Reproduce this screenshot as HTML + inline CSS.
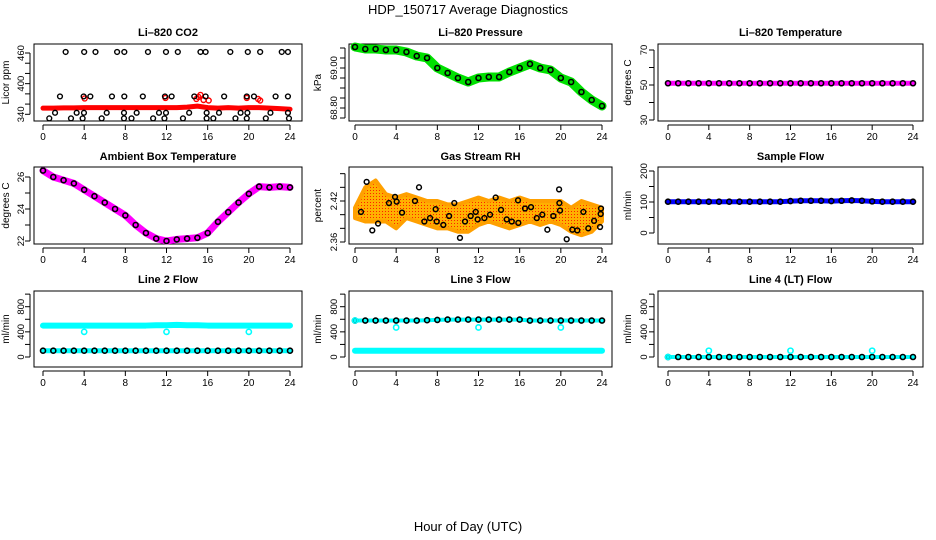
<!DOCTYPE html>
<html><head><meta charset="utf-8">
<style>
html,body{margin:0;padding:0;background:#fff;}
svg{display:block;font-family:"Liberation Sans",Arial,sans-serif;}
</style></head>
<body>
<svg id="chart" width="936" height="540" viewBox="0 0 936 540" xmlns="http://www.w3.org/2000/svg">
<defs>
<pattern id="rhpat" width="3" height="3" patternUnits="userSpaceOnUse">
<rect width="3" height="3" fill="#ffb000"/><rect x="1" y="1" width="1" height="1" fill="#ff2000"/>
</pattern>
</defs>
<text x="468" y="14" text-anchor="middle" font-size="13">HDP_150717  Average Diagnostics</text>
<text x="468" y="531" text-anchor="middle" font-size="13">Hour of Day (UTC)</text>
<g id="plots"></g>
</svg>
<script>
// ---------- data ----------
const hours = [0,1,2,3,4,5,6,7,8,9,10,11,12,13,14,15,16,17,18,19,20,21,22,23,24];
const xTicks = [0,4,8,12,16,20,24];
// CO2
const co2Red = [352,352,352.5,352.5,353,353,353,353,353,353,353,353,353,353,354,356,353,352,353,352,353,353,352,351,350];
const co2OutT = [4.05,11.9,14.9,15.1,15.3,15.6,16.1,19.8,20.9,21.1];
const co2OutV = [371,372,370,374,378,368,367,372,370,367];
const co2BlkT = [2.2,4.0,5.1,7.2,7.9,10.2,11.95,13.1,15.3,15.8,18.2,19.9,21.1,23.2,23.8,
 1.65,3.95,4.6,6.7,7.9,9.7,11.85,12.5,14.7,15.8,17.6,19.8,20.5,22.6,23.8,
 1.17,3.27,3.98,6.19,7.87,9.1,11.27,11.95,14.2,15.9,17.1,19.2,19.86,22.1,23.8,
 0.61,2.72,3.85,5.7,7.87,8.6,10.7,11.8,13.6,15.9,16.55,18.7,19.8,21.65,23.9];
const co2BlkV = [462,462,462,462,462,462,462,462,462,462,462,462,462,462,462,
 375,375,375,375,375,375,375,375,375,375,375,375,375,375,375,
 343,343,343,343,343,343,343,343,343,343,343,343,343,343,343,
 332,332,332,332,332,332,332,332,332,332,332,332,332,332,332];
// Pressure
const presV = [69.105,69.095,69.095,69.09,69.09,69.08,69.06,69.05,69.0,68.975,68.95,68.93,68.95,68.955,68.955,68.98,69.0,69.02,69.0,68.99,68.95,68.93,68.88,68.84,68.81];
// Li-820 temperature
const liTempV = [51,51,51,51,51,51,51,51,51,51,51,51,51,51,51,51,51,51,51,51,51,51,51,51,51];
// Ambient box
const ambV = [26.4,26.0,25.8,25.6,25.2,24.8,24.4,24.0,23.6,23.0,22.5,22.15,22.0,22.1,22.15,22.2,22.5,23.2,23.8,24.4,24.95,25.4,25.35,25.4,25.35];
// Gas stream RH
const rhHi = [2.41,2.44,2.45,2.43,2.425,2.43,2.425,2.42,2.42,2.415,2.415,2.42,2.425,2.42,2.425,2.42,2.425,2.42,2.42,2.42,2.42,2.41,2.42,2.415,2.41];
const rhLo = [2.395,2.39,2.39,2.39,2.38,2.395,2.39,2.385,2.38,2.38,2.375,2.375,2.385,2.39,2.385,2.38,2.385,2.39,2.385,2.39,2.385,2.375,2.37,2.375,2.39];
const rhBlkT = [0.58,1.13,1.68,2.24,3.30,3.89,4.05,4.57,5.83,6.22,6.74,7.29,7.84,7.94,8.58,9.14,9.65,10.2,10.69,11.24,11.73,11.92,12.57,13.12,13.67,14.19,14.74,15.23,15.87,15.84,16.52,17.1,17.66,18.2,18.69,19.27,19.83,19.86,19.92,20.57,21.12,21.6,22.19,22.67,23.23,23.81,23.87,23.9];
const rhBlkV = [2.404,2.448,2.377,2.387,2.417,2.426,2.419,2.403,2.420,2.440,2.390,2.395,2.408,2.390,2.385,2.398,2.417,2.366,2.390,2.398,2.404,2.393,2.395,2.400,2.425,2.407,2.393,2.390,2.388,2.421,2.409,2.411,2.395,2.400,2.378,2.398,2.437,2.417,2.406,2.364,2.378,2.377,2.404,2.380,2.391,2.382,2.401,2.409];
// Sample flow
const sfV = [101,101,101,101,101,101,101,101,101,101,101,101,103,104,104,104,103,104,105,104,102,101,101,101,101];
// Line 2
const l2Cyan = [500,500,500,500,500,500,500,500,500,500,500,505,505,510,505,505,500,500,500,500,500,500,500,500,500];
const l2Blk = [100,100,100,100,100,100,100,100,100,100,100,100,100,100,100,100,100,100,100,100,100,100,100,100,100];
const l2OutT = [4,12,20]; const l2OutV = [400,400,400];
// Line 3
const l3Blk = [580,580,580,580,580,580,580,585,590,595,595,595,595,595,595,595,595,580,580,580,580,580,580,580,580];
const l3Cyan = [100,100,100,100,100,100,100,100,100,100,100,100,100,100,100,100,100,100,100,100,100,100,100,100,100];
const l3OutT = [0,4,12,20]; const l3OutV = [580,470,470,470];
// Line 4
const l4Blk = [0,0,0,0,0,0,0,0,0,0,0,0,0,0,0,0,0,0,0,0,0,0,0,0,0];
const l4OutT = [0,4,12,20]; const l4OutV = [0,100,100,100];

// ---------- layout ----------
const NS = "http://www.w3.org/2000/svg";
const root = document.getElementById('plots');
const cols = [{l:34,r:302,x0:43,x24:290,yl:9,tl:24},{l:349,r:612,x0:355,x24:602,yl:321,tl:337},{l:658,r:923,x0:668,x24:913,yl:631,tl:647}];
const rows = [{t:44,b:121,title:36},{t:167,b:244,title:160},{t:291,b:367,title:283}];

function el(tag, attrs, parent){const e=document.createElementNS(NS,tag);for(const k in attrs)e.setAttribute(k,attrs[k]);(parent||root).appendChild(e);return e;}

function panel(ci,ri,name,title,ylab,v1,p1,v2,p2,ticks,labels){
  const c=cols[ci], r=rows[ri];
  const g=el('g',{});
  
  
  const xs=t=>c.x0+(c.x24-c.x0)*t/24;
  const ys=v=>p1+(v-v1)*(p2-p1)/(v2-v1);
  const box=el('rect',{x:c.l,y:r.t,width:c.r-c.l,height:r.b-r.t,fill:'none',stroke:'#000','stroke-width':1},g);
  
  
  const tt=el('text',{x:(c.l+c.r)/2,y:r.title,'text-anchor':'middle','font-size':11,'font-weight':'bold'},g);
  tt.textContent=title;
  
  
  const xa=el('g',{},g);
  
  
  el('line',{x1:xs(0),x2:xs(24),y1:r.b+4,y2:r.b+4,stroke:'#000'},xa);
  xTicks.forEach(t=>{
    el('line',{x1:xs(t),x2:xs(t),y1:r.b+4,y2:r.b+9,stroke:'#000'},xa);
    const tx=el('text',{x:xs(t),y:r.b+19,'text-anchor':'middle','font-size':10},xa);
    tx.textContent=t;
    
    
  });
  const ya=el('g',{},g);
  
  
  const ax=c.l-4;
  el('line',{x1:ax,x2:ax,y1:ys(ticks[0]),y2:ys(ticks[ticks.length-1]),stroke:'#000'},ya);
  ticks.forEach(v=>el('line',{x1:ax-5,x2:ax,y1:ys(v),y2:ys(v),stroke:'#000'},ya));
  labels.forEach(v=>{
    const y=ys(v);
    const tx=el('text',{x:c.tl,y:y,'text-anchor':'middle','font-size':9.5,transform:`rotate(-90 ${c.tl} ${y})`},ya);
    tx.textContent=v;
    
    
  });
  const yt=el('text',{x:c.yl,y:(r.t+r.b)/2,'text-anchor':'middle','font-size':10,transform:`rotate(-90 ${c.yl} ${(r.t+r.b)/2})`},g);
  yt.textContent=ylab;
  
  
  return {g,xs,ys};
}
function band(P,vals,color,w,name){
  const pl=el('polyline',{points:hours.map((h,i)=>P.xs(h)+','+P.ys(vals[i])).join(' '),fill:'none',stroke:color,'stroke-width':w,'stroke-linecap':'round','stroke-linejoin':'round'},P.g);
  
  
}
function pts(P,ts,vs,color,name,r,sw){
  const g=el('g',{},P.g);
  
  
  ts.forEach((t,i)=>{
    const c=el('circle',{cx:P.xs(t),cy:P.ys(vs[i]),r:r||2.5,fill:'none',stroke:color,'stroke-width':sw||1.4},g);
    
    
  });
}
function blkLine(P,vals,name){
  pts(P,hours,vals,'#000',name,2.5,1.6);
}

let P=panel(0,0,'co2','Li\u2013820 CO2','Licor ppm',340,114.3,460,53,[340,360,380,400,420,440,460],[340,400,460]);
band(P,co2Red,'#ff0000',5,'co2-red-band');
pts(P,co2OutT,co2OutV,'#ff0000','co2-red-outliers',2.5,1.4);
pts(P,co2BlkT,co2BlkV,'#000','co2-black-points',2.4,1.4);

P=panel(1,0,'pressure','Li\u2013820 Pressure','kPa',68.8,108,69.0,68,[68.75,68.8,68.85,68.9,68.95,69.0,69.05,69.1],['68.80','69.00']);
band(P,presV,'#00e000',9,'pressure-green-band');
blkLine(P,presV,'pressure-black-points');

P=panel(2,0,'li-temp','Li\u2013820 Temperature','degrees C',30,120,70,50,[30,40,50,60,70],[30,50,70]);
band(P,liTempV,'#ff00ff',5,'li-temp-magenta-band');
blkLine(P,liTempV,'li-temp-black-points');

P=panel(0,1,'ambient','Ambient Box Temperature','degrees C',22,241,26,177,[22,23,24,25,26],[22,24,26]);
band(P,ambV,'#ff00ff',7,'ambient-magenta-band');
blkLine(P,ambV,'ambient-black-points');

P=panel(1,1,'rh','Gas Stream RH','percent',2.36,242,2.42,201,[2.36,2.38,2.40,2.42,2.44,2.46],['2.36','2.42']);
{
  const up=hours.map((h,i)=>P.xs(h)+','+P.ys(rhHi[i]));
  const lo=hours.map((h,i)=>P.xs(h)+','+P.ys(rhLo[i])).reverse();
  const pg=el('polygon',{points:up.concat(lo).join(' '),fill:'url(#rhpat)',stroke:'#ffa000','stroke-width':4,'stroke-linejoin':'round'},P.g);
  
  
}
pts(P,rhBlkT,rhBlkV,'#000','rh-black-points',2.4,1.5);

P=panel(2,1,'sample-flow','Sample Flow','ml/min',0,233,200,171,[0,50,100,150,200],[0,100,200]);
band(P,sfV,'#0000ff',5,'sample-flow-blue-band');
blkLine(P,sfV,'sample-flow-black-points');

P=panel(0,2,'line2','Line 2 Flow','ml/min',0,357,800,306.7,[0,200,400,600,800,1000],[0,400,800]);
band(P,l2Cyan,'#00ffff',6,'line2-cyan-band');
band(P,l2Blk,'#00ffff',5,'line2-cyan-low-band');
blkLine(P,l2Blk,'line2-black-points');
pts(P,l2OutT,l2OutV,'#00ffff','line2-cyan-outliers',2.6,1.6);

P=panel(1,2,'line3','Line 3 Flow','ml/min',0,357,800,306.7,[0,200,400,600,800,1000],[0,400,800]);
band(P,l3Cyan,'#00ffff',6,'line3-cyan-band');
band(P,l3Blk,'#00ffff',4,'line3-cyan-high-band');
blkLine(P,l3Blk,'line3-black-points');
pts(P,l3OutT,l3OutV,'#00ffff','line3-cyan-outliers',2.6,1.6);

P=panel(2,2,'line4','Line 4 (LT) Flow','ml/min',0,357,800,306.7,[0,200,400,600,800,1000],[0,400,800]);
band(P,l4Blk,'#00ffff',4,'line4-cyan-band');
blkLine(P,l4Blk,'line4-black-points');
pts(P,l4OutT,l4OutV,'#00ffff','line4-cyan-outliers',2.6,1.6);
</script>
</body></html>
